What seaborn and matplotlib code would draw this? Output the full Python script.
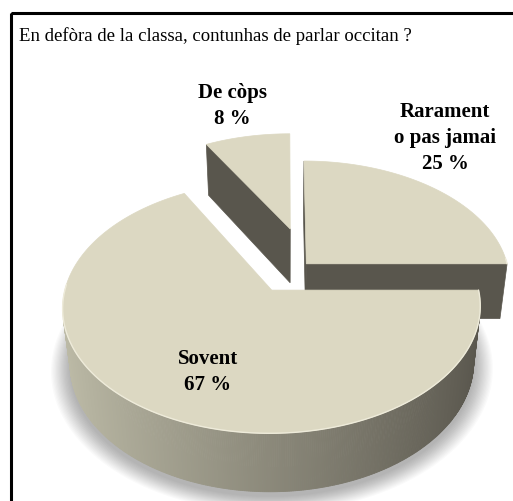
import numpy as np
import matplotlib
matplotlib.use('Agg')
import matplotlib.pyplot as plt
import seaborn as sns
from matplotlib.patches import Polygon, Rectangle
from matplotlib.colors import to_rgb

# data
slice_labels = ['Rarament\no pas jamai', 'De còps', 'Sovent']
values = [25, 8, 67]
title = 'En defòra de la classa, contunhas de parlar occitan ?'

# style
explode = [(0.099, 0.099), (0.02, 0.41), (-0.071, -0.12)]   # offsets in the pie plane
label_xy = [(445, 138), (232, 106), (208, 372)]             # label block centres (px)
top_col = '#DCD8C2'
dark_col = '#59564D'
light_side = '#BEBCA8'

sns.set_style('white')
plt.rcParams['font.family'] = ['Liberation Serif', 'DejaVu Serif']

# simple perspective camera
tilt = np.radians(36)
s, c = np.sin(tilt), np.cos(tilt)
dist, foc, h = 6.0, 1221.0, 0.346
cx, cy = 286.4, 276.5
cam = np.array([0, -dist * c, dist * s])


def proj(X, Y, Z):
    yc = Y * s + Z * c
    zc = dist + Y * c - Z * s
    return cx + foc * X / zc, cy - foc * yc / zc


def side_color(a):
    t = (1 - np.cos(a)) / 2
    d, l = np.array(to_rgb(dark_col)), np.array(to_rgb(light_side))
    return tuple(d + t * (l - d))


def visible(normal, P):
    return np.dot(normal, cam - P) > 0


fig = plt.figure(figsize=(5.13, 5.02), dpi=100)
ax = fig.add_axes([0, 0, 1, 1])
ax.set_xlim(0, 513)
ax.set_ylim(502, 0)
ax.axis('off')

bounds = np.concatenate([[0], np.cumsum(values)]) / sum(values) * 360

# soft shadow under the big slice
ox, oy = explode[2]
for k in range(16, 0, -1):
    r = 1 + 0.006 * k
    th = np.radians(np.linspace(150, 385, 120))
    outer = np.column_stack(proj(ox + r * np.cos(th), oy + r * np.sin(th), -h - 0.025))
    inner = np.column_stack(proj(ox + 0.85 * np.cos(th[::-1]), oy + 0.85 * np.sin(th[::-1]), -h))
    ax.add_patch(Polygon(np.vstack([outer, inner]), closed=True, fc='black', ec='none', alpha=0.02))

# draw slices back to front
order = [1, 0, 2]
for i in order:
    a1, a2 = bounds[i], bounds[i + 1]
    ox, oy = explode[i]
    th = np.radians(np.linspace(a1, a2, max(int(a2 - a1) * 2, 8)))

    # cut faces
    for a, sign in ((np.radians(a1), 1), (np.radians(a2), -1)):
        normal = np.array([sign * np.sin(a), -sign * np.cos(a), 0])
        P = np.array([ox + 0.5 * np.cos(a), oy + 0.5 * np.sin(a), -h / 2])
        if visible(normal, P):
            X = [ox, ox + np.cos(a), ox + np.cos(a), ox]
            Y = [oy, oy + np.sin(a), oy + np.sin(a), oy]
            Z = [0, 0, -h, -h]
            px, py = proj(np.array(X), np.array(Y), np.array(Z))
            ax.add_patch(Polygon(np.column_stack([px, py]), closed=True,
                                 fc=dark_col, ec=dark_col, lw=0.5))

    # outer curved side
    for j in range(len(th) - 1):
        m = (th[j] + th[j + 1]) / 2
        normal = np.array([np.cos(m), np.sin(m), 0])
        P = np.array([ox + np.cos(m), oy + np.sin(m), -h / 2])
        if not visible(normal, P):
            continue
        t2 = th[j:j + 2]
        X = np.r_[ox + np.cos(t2), ox + np.cos(t2[::-1])]
        Y = np.r_[oy + np.sin(t2), oy + np.sin(t2[::-1])]
        Z = np.r_[0, 0, -h, -h]
        px, py = proj(X, Y, Z)
        col = side_color(m)
        ax.add_patch(Polygon(np.column_stack([px, py]), closed=True, fc=col, ec=col, lw=0.6))

    # top face
    X = np.r_[ox, ox + np.cos(th)]
    Y = np.r_[oy, oy + np.sin(th)]
    px, py = proj(X, Y, np.zeros_like(X))
    ax.add_patch(Polygon(np.column_stack([px, py]), closed=True, fc=top_col, ec=top_col, lw=0.5))

    # light rim on the front edge
    front = th[np.sin(th) < 0.05]
    if len(front):
        px, py = proj(ox + np.cos(front), oy + np.sin(front), np.zeros_like(front))
        ax.plot(px, py, color='#EEEBDA', lw=1.0)

# labels
for lab, v, (lx, ly) in zip(slice_labels, values, label_xy):
    ax.text(lx, ly, f'{lab}\n{v} %', ha='center', va='center', ma='center',
            fontsize=15, fontweight='bold', linespacing=1.4, color='black')

ax.text(19, 41, title, ha='left', va='baseline', fontsize=13.5, color='black')

# frame
ax.add_patch(Rectangle((10.5, 13.5), 700, 700, fill=False, ec='black', lw=2.2))

fig.savefig('out.png', dpi=100)
